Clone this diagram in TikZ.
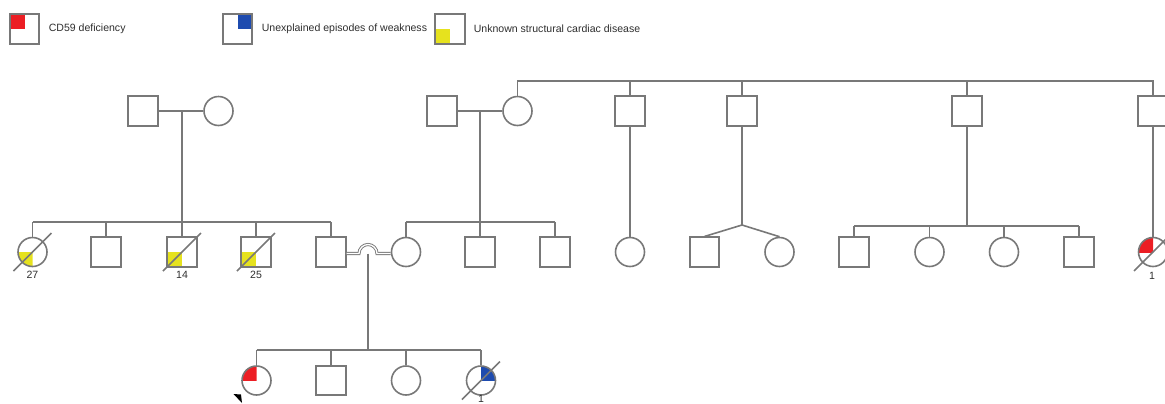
\documentclass[tikz,border=0pt]{standalone}
\usepackage{fontspec}
\setmainfont{Liberation Sans}
\usetikzlibrary{backgrounds}
\definecolor{pedgray}{RGB}{120,120,120}
\definecolor{cdred}{RGB}{236,30,36}
\definecolor{weakblue}{RGB}{30,75,175}
\definecolor{cardyellow}{RGB}{230,226,30}
\definecolor{txtgray}{RGB}{45,45,45}

\begin{document}
\begin{tikzpicture}[x=0.02cm,y=-0.02cm,line width=0.032cm,
  male/.style={draw=pedgray,rectangle,minimum size=0.59cm,inner sep=0pt},
  female/.style={draw=pedgray,circle,minimum size=0.58cm,inner sep=0pt},
  rel/.style={draw=pedgray},
  consang/.style={draw=pedgray,line width=0.018cm,double=white,double distance=0.026cm},
  note/.style={anchor=west,inner sep=0pt,text=txtgray,font=\fontsize{6}{7}\selectfont},
  num/.style={inner sep=0pt,text=txtgray,font=\fontsize{6}{7}\selectfont}]
  \useasboundingbox (0,0) rectangle (1165,403);
  \clip (0,0) rectangle (1165,403);

  \node[male] (k1) at (24.5,29) {};
  \node[male] (k2) at (237.5,29) {};
  \node[male] (k3) at (450,29) {};
  \node[note] (t1) at (48,29) {CD59 deficiency};
  \node[note] (t2) at (261,29) {Unexplained episodes of weakness};
  \node[note] (t3) at (473,29) {Unknown structural cardiac disease};

  \node[male] (i1) at (143,111) {};
  \node[female] (i2) at (218.5,111) {};
  \node[male] (i3) at (442,111) {};
  \node[female] (i4) at (517.5,111) {};
  \node[male] (i5) at (630,111) {};
  \node[male] (i6) at (742,111) {};
  \node[male] (i7) at (967,111) {};
  \node[male] (i8) at (1153,111) {};

  \node[female] (ii1) at (32.5,252) {};
  \node[male] (ii2) at (106,252) {};
  \node[male] (ii3) at (182,252) {};
  \node[male] (ii4) at (256,252) {};
  \node[male] (ii5) at (331,252) {};
  \node[female] (ii6) at (406,252) {};
  \node[male] (ii7) at (480,252) {};
  \node[male] (ii8) at (555,252) {};
  \node[female] (ii9) at (630,252) {};
  \node[male] (ii10) at (704.5,252) {};
  \node[female] (ii11) at (779.5,252) {};
  \node[male] (ii12) at (854,252) {};
  \node[female] (ii13) at (929.5,252) {};
  \node[female] (ii14) at (1004,252) {};
  \node[male] (ii15) at (1079,252) {};
  \node[female] (ii16) at (1153,252) {};

  \node[female] (iii1) at (256.5,380.5) {};
  \node[male] (iii2) at (331,380.5) {};
  \node[female] (iii3) at (406,380.5) {};
  \node[female] (iii4) at (481,380.5) {};

  \node[num] (n1) at (32.5,275) {27};
  \node[num] (n2) at (182,275) {14};
  \node[num] (n3) at (256,275) {25};
  \node[num] (n4) at (1152,276) {1};
  \node[num] (n5) at (481,399) {1};

  \begin{scope}[on background layer]
    \foreach \n/\dx/\dy/\c in {k1/-1/-1/cdred,k2/1/-1/weakblue,k3/-1/1/cardyellow,
        ii3/-1/1/cardyellow,ii4/-1/1/cardyellow}
      \fill[\c] (\n.center) rectangle +(\dx*15,\dy*15);
    \foreach \n/\dx/\dy/\c in {ii1/-1/1/cardyellow,ii16/-1/-1/cdred,
        iii1/-1/-1/cdred,iii4/1/-1/weakblue}
    {
      \begin{scope}
        \clip (\n.center) rectangle +(\dx*16,\dy*16);
        \fill[\c] (\n.center) circle[radius=0.29cm];
      \end{scope}
    }
  \end{scope}

  \coordinate (m1) at (182,111);
  \coordinate (s1) at (182,222);
  \draw[rel] (i1.east) -- (i2.west) (m1) -- (s1);
  \draw[rel] (ii1.north |- s1) -- (ii5.north |- s1);
  \foreach \c in {ii1,ii2,ii3,ii4,ii5} \draw[rel] (\c.north) -- (\c.north |- s1);

  \coordinate (m2) at (480,111);
  \coordinate (s2) at (480,222);
  \draw[rel] (i3.east) -- (i4.west) (m2) -- (s2);
  \draw[rel] (ii6.north |- s2) -- (ii8.north |- s2);
  \foreach \c in {ii6,ii7,ii8} \draw[rel] (\c.north) -- (\c.north |- s2);

  \coordinate (t) at (1153,81);
  \draw[rel] (i4.north) |- (t) -- (i8.north);
  \foreach \c in {i5,i6,i7} \draw[rel] (\c.north) -- (\c.north |- t);

  \draw[rel] (i5.south) -- (ii9.north);
  \coordinate (tw) at (742,225);
  \draw[rel] (i6.south) -- (tw) (ii10.north) -- (tw) -- (ii11.north);

  \coordinate (s3) at (967,226);
  \draw[rel] (i7.south) -- (s3) (ii12.north |- s3) -- (ii15.north |- s3);
  \foreach \c in {ii12,ii13,ii14,ii15} \draw[rel] (\c.north) -- (\c.north |- s3);

  \draw[rel] (i8.south) -- (ii16.north);

  \coordinate (m3) at (368,253.5);
  \coordinate (s4) at (368,350);
  \draw[consang] (ii5.east |- m3) -- (359,253.5) arc[start angle=180,end angle=0,radius=0.18cm]
    -- (ii6.west |- m3);
  \draw[rel] (m3) -- (s4) (iii1.north |- s4) -- (iii4.north |- s4);
  \foreach \c in {iii1,iii2,iii3,iii4} \draw[rel] (\c.north) -- (\c.north |- s4);

  \foreach \n in {ii1,ii3,ii4,ii16,iii4}
    \draw[rel] (\n.center) +(-19,19) -- +(19,-19);

  \fill[black] (233.5,394) -- (241,394.5) -- (242,403) -- cycle;
\end{tikzpicture}
\end{document}
